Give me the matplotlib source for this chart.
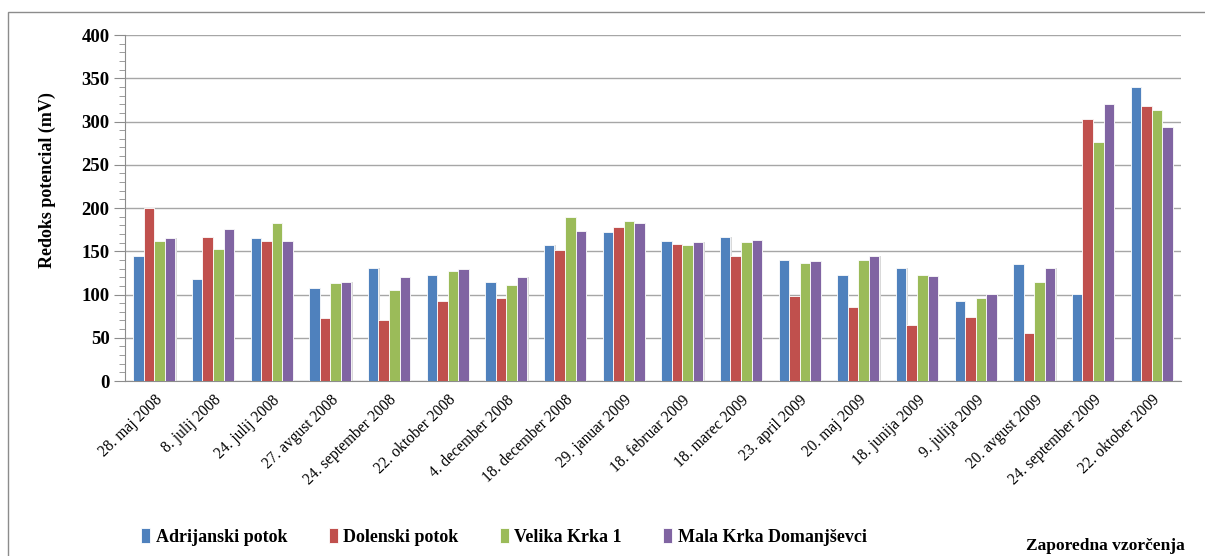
import matplotlib.pyplot as plt
import numpy as np
from matplotlib.patches import Rectangle

# Data
dates = ["28. maj 2008", "8. julij 2008", "24. julij 2008", "27. avgust 2008",
         "24. september 2008", "22. oktober 2008", "4. december 2008",
         "18. december 2008", "29. januar 2009", "18. februar 2009",
         "18. marec 2009", "23. april 2009", "20. maj 2009", "18. junija 2009",
         "9. julija 2009", "20. avgust 2009", "24. september 2009",
         "22. oktober 2009"]

adrijanski = [145, 118, 165, 108, 131, 122, 115, 157, 172, 162, 166, 140, 122, 131, 92, 135, 101, 340]
dolenski = [200, 166, 162, 73, 70, 92, 96, 151, 178, 158, 145, 98, 86, 65, 74, 56, 303, 318]
velika_krka = [162, 153, 183, 113, 105, 127, 111, 190, 185, 157, 161, 136, 140, 122, 96, 114, 276, 313]
mala_krka = [165, 176, 162, 115, 120, 130, 120, 174, 183, 161, 163, 139, 144, 121, 101, 131, 320, 294]

series = ["Adrijanski potok", "Dolenski potok", "Velika Krka 1", "Mala Krka Domanjševci"]
colors = ["#4F81BD", "#C0504D", "#9BBB59", "#8064A2"]

serif = ["Liberation Serif", "DejaVu Serif"]
plt.rcParams.update({
    "font.family": serif,
    "font.size": 11,
})

fig = plt.figure(figsize=(12.05, 5.56), dpi=100)
ax = fig.add_axes([0.1037, 0.3147, 0.9801 - 0.1037, 0.937 - 0.3147])

# outer frame (runs off the right and bottom edges)
fig.patches.append(Rectangle((8 / 1205, -0.05), 1.1, 1.05 - 12 / 556,
                             transform=fig.transFigure, fill=False,
                             edgecolor="#8c8c8c", linewidth=1.0))

x = np.arange(len(dates))
width = 0.18
values = [adrijanski, dolenski, velika_krka, mala_krka]
for i, (vals, name, col) in enumerate(zip(values, series, colors)):
    pos = x + (i - 1.5) * width
    # soft shadow on the right side of each bar
    ax.bar(pos + 0.02, vals, width, color="#d9d9d9", linewidth=0, zorder=2)
    ax.bar(pos, vals, width, color=col, edgecolor="white",
           linewidth=0.6, label=name, zorder=3)

ax.set_xlim(-0.5, len(dates) - 0.5)
ax.set_ylim(0, 400)
ax.set_yticks(range(0, 401, 50))
ax.set_yticks(range(0, 401, 10), minor=True)
ax.grid(axis="y", color="#a6a6a6", linewidth=1.0, zorder=0)

for s in ["top", "right"]:
    ax.spines[s].set_visible(False)
ax.spines["left"].set_color("#8c8c8c")
ax.spines["bottom"].set_color("#8c8c8c")

ax.tick_params(axis="y", which="major", length=8, color="#8c8c8c", labelsize=13.5, pad=3)
ax.tick_params(axis="y", which="minor", length=4, color="#8c8c8c")
for t in ax.get_yticklabels():
    t.set_fontweight("bold")

ax.set_xticks(x)
ax.set_xticklabels(dates, rotation=44, ha="right", rotation_mode="anchor", fontsize=11.2)
ax.tick_params(axis="x", length=0, pad=8)

ax.set_ylabel("Redoks potencial (mV)", fontweight="bold", fontsize=13)
ax.yaxis.set_label_coords(-0.065, 0.58)

fig.legend(loc="center left", bbox_to_anchor=(125 / 1205, 1 - 537 / 556), ncol=4,
           frameon=False, handlelength=0.5, handleheight=0.9, handletextpad=0.3,
           columnspacing=2.3, prop={"family": serif, "weight": "bold", "size": 13})

fig.text(1185 / 1205, 1 - 546 / 556, "Zaporedna vzorčenja", ha="right", va="center",
         fontweight="bold", fontsize=12.5)

fig.savefig("out.png", dpi=100)
